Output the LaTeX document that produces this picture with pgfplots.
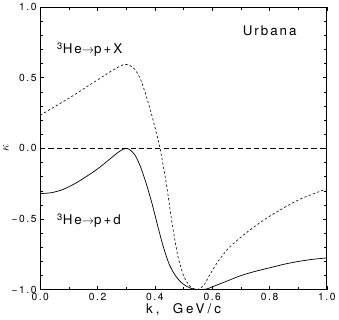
\documentclass[border=0pt]{standalone}
\usepackage{pgfplots}
\pgfplotsset{compat=1.18}
\usepackage{fontspec}
\setmainfont{TeX Gyre Heros}
\newfontfamily\lab[LetterSpace=15]{TeX Gyre Heros}
\newfontfamily\labw[LetterSpace=22]{TeX Gyre Heros}
\begin{document}
\begin{tikzpicture}
\begin{axis}[
  scale only axis,
  width=279pt, height=275pt,
  xmin=0, xmax=1, ymin=-1, ymax=1,
  xtick={0,0.2,0.4,0.6,0.8,1.0},
  xticklabels={0.0,0.2,0.4,0.6,0.8,1.0},
  minor xtick={0.1,0.3,0.5,0.7,0.9},
  ytick={-1,-0.5,0,0.5,1},
  yticklabels={−1.0,−0.5,0.0,0.5,1.0},
  minor ytick={-0.9,-0.8,-0.7,-0.6,-0.4,-0.3,-0.2,-0.1,0.1,0.2,0.3,0.4,0.6,0.7,0.8,0.9},
  major tick length=4pt, minor tick length=3pt,
  tick align=inside,
  xtick pos=both, ytick pos=both,
  tick label style={font=\lab\fontsize{10}{12}\selectfont},
  xlabel={k,\ \ GeV/c},
  ylabel={$\kappa$},
  xlabel style={font=\labw\fontsize{13}{15}\selectfont, yshift=4pt},
  ylabel style={font=\fontsize{13}{15}\selectfont, yshift=-4pt},
  axis line style={line width=0.8pt},
  every tick/.style={black, line width=0.6pt},
  clip=true,
]
% zero reference line
\addplot[black, line width=0.6pt, dash pattern=on 5pt off 3pt] coordinates {(0,0) (1,0)};
% 3He -> p + X
\addplot[black, line width=0.6pt, dash pattern=on 2.2pt off 2.2pt, smooth, tension=0.4] coordinates {
(0,0.235) (0.05,0.295) (0.10,0.355) (0.15,0.42) (0.20,0.485) (0.25,0.55)
(0.29,0.593) (0.31,0.59) (0.33,0.56) (0.35,0.49) (0.37,0.37) (0.39,0.23)
(0.41,0.07) (0.42,-0.02) (0.44,-0.25) (0.46,-0.53) (0.48,-0.76) (0.50,-0.90)
(0.52,-0.97) (0.545,-1.0) (0.57,-0.97) (0.59,-0.90) (0.62,-0.80) (0.66,-0.70)
(0.72,-0.595) (0.80,-0.48) (0.90,-0.365) (1.00,-0.285)};
% 3He -> p + d
\addplot[black, line width=0.7pt, smooth, tension=0.45] coordinates {
(0,-0.32) (0.04,-0.313) (0.08,-0.29) (0.12,-0.25) (0.16,-0.20) (0.20,-0.145)
(0.24,-0.08) (0.27,-0.03) (0.29,-0.005) (0.30,0.0) (0.31,-0.005) (0.33,-0.045)
(0.35,-0.13) (0.37,-0.25) (0.39,-0.39) (0.41,-0.55) (0.43,-0.70) (0.45,-0.82)
(0.47,-0.895) (0.49,-0.945) (0.51,-0.975) (0.53,-0.993) (0.55,-1.0) (0.58,-0.995)
(0.60,-0.98) (0.65,-0.94) (0.70,-0.90) (0.75,-0.87) (0.80,-0.845) (0.85,-0.82)
(0.90,-0.80) (0.95,-0.785) (1.00,-0.775)};
\node[anchor=west, inner sep=0pt, font=\lab\fontsize{13}{15}\selectfont] at (axis cs:0.058,0.70) {\textsuperscript{3}He$\rightarrow$p+X};
\node[anchor=west, inner sep=0pt, font=\lab\fontsize{13}{15}\selectfont] at (axis cs:0.058,-0.51) {\textsuperscript{3}He$\rightarrow$p+d};
\node[anchor=east, inner sep=0pt, font=\lab\fontsize{13}{15}\selectfont] at (axis cs:0.895,0.83) {Urbana};
\end{axis}
\end{tikzpicture}
\end{document}
